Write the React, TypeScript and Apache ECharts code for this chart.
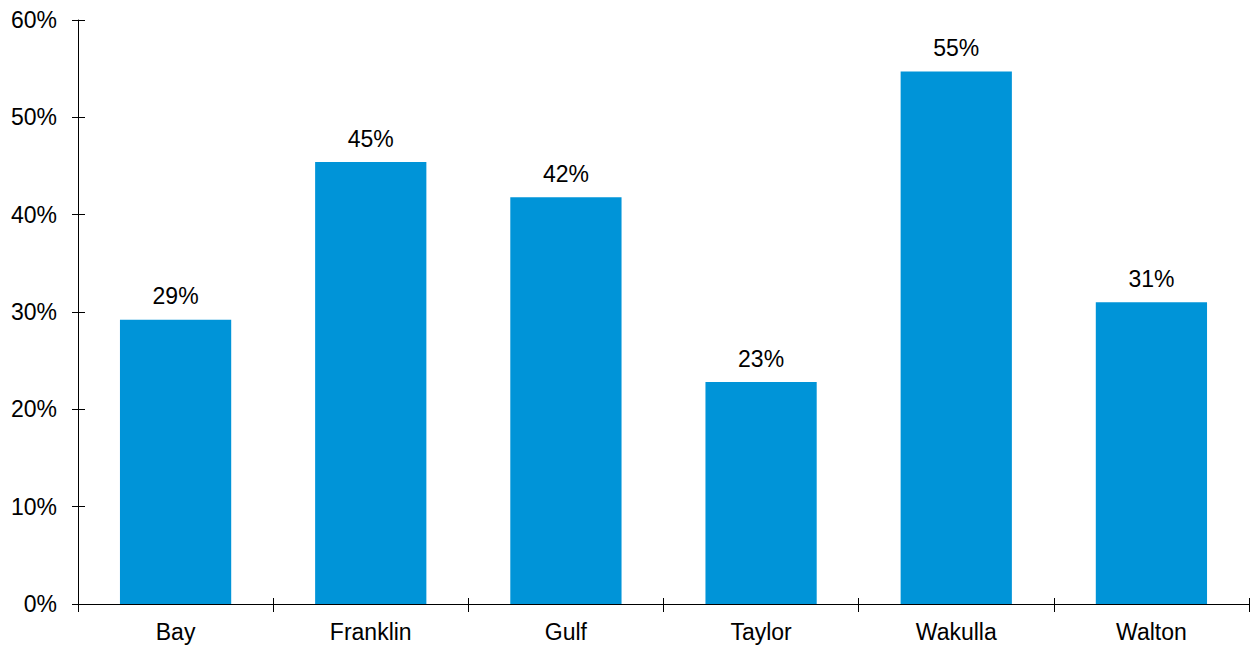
import React, { useEffect, useRef } from "react";
import * as echarts from "echarts";

const categories = ["Bay", "Franklin", "Gulf", "Taylor", "Wakulla", "Walton"];
const values = [29.2, 45.4, 41.8, 22.8, 54.7, 31.0];
const yTicks = [0, 10, 20, 30, 40, 50, 60];

const FONT = "'Liberation Sans', Arial, sans-serif";
const FS = 23;

export default function App() {
  const ref = useRef<HTMLDivElement>(null);
  useEffect(() => {
    if (!ref.current) return;
    const chart = echarts.init(ref.current, null, { renderer: "svg" });
    const axisLine = { show: true, lineStyle: { color: "#000", width: 1 } };
    chart.setOption({
      animation: false,
      grid: { left: 78, right: 6, top: 20, bottom: 44, containLabel: false },
      xAxis: [
        {
          type: "category",
          data: categories,
          position: "bottom",
          axisLine,
          axisTick: { show: true, length: 8, lineStyle: { color: "#000" } },
          axisLabel: { color: "#000", fontSize: FS, fontFamily: FONT, margin: 16 },
        },
        {
          type: "category",
          data: categories,
          position: "bottom",
          axisLine: { show: false },
          axisTick: { show: true, inside: true, length: 6, lineStyle: { color: "#000" } },
          axisLabel: { show: false },
        },
      ],
      yAxis: [
        {
          type: "value",
          min: yTicks[0],
          max: yTicks[yTicks.length - 1],
          interval: 10,
          axisLine,
          axisTick: { show: true, length: 6, lineStyle: { color: "#000" } },
          splitLine: { show: false },
          axisLabel: {
            color: "#000",
            fontSize: FS,
            fontFamily: FONT,
            margin: 21,
            formatter: (v: number) => `${v}%`,
          },
        },
        {
          type: "value",
          position: "left",
          min: yTicks[0],
          max: yTicks[yTicks.length - 1],
          interval: 10,
          axisLine: { show: false },
          axisTick: { show: true, inside: true, length: 7, lineStyle: { color: "#000" } },
          splitLine: { show: false },
          axisLabel: { show: false },
        },
      ],
      series: [
        {
          type: "bar",
          data: values,
          barWidth: "57%",
          itemStyle: { color: "#0094D8" },
          label: {
            show: true,
            position: "top",
            distance: 12,
            color: "#000",
            fontSize: FS,
            fontFamily: FONT,
            formatter: (p: any) => `${Math.round(p.value)}%`,
          },
        },
      ],
    });
    return () => chart.dispose();
  }, []);
  return <div ref={ref} style={{ width: 1255, height: 648, position: "absolute", left: 0, top: 0, background: "#fff" }} />;
}
